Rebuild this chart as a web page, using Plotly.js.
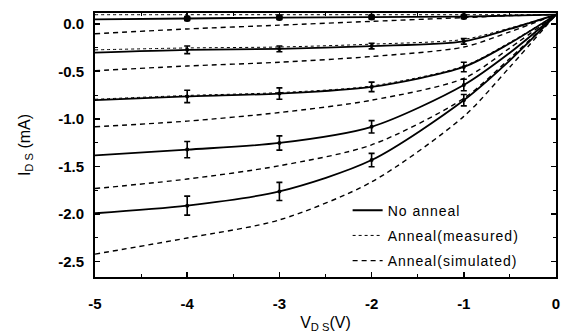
<!DOCTYPE html>
<html>
<head>
<meta charset="utf-8">
<script src="https://cdn.plot.ly/plotly-3.0.1.min.js"></script>
<style>
html,body{margin:0;padding:0;background:#fff;}
#chart{width:562px;height:333px;}
.legendtext{letter-spacing:1px;}
</style>
</head>
<body>
<div id="chart"></div>
<script>
// V_DS values for curves (V)
const vds = [-5, -4, -3, -2, -1, -0.5, 0];
// No anneal (solid) curves, I_DS in mA
const noAnneal1 = [0.05, 0.06, 0.07, 0.075, 0.08, 0.09, 0.10];
const noAnneal2 = [-0.30, -0.27, -0.26, -0.23, -0.18, -0.05, 0.10];
const noAnneal3 = [-0.80, -0.76, -0.73, -0.66, -0.45, -0.20, 0.10];
const noAnneal4 = [-1.38, -1.32, -1.25, -1.08, -0.64, -0.30, 0.10];
const noAnneal5 = [-1.99, -1.91, -1.76, -1.43, -0.80, -0.38, 0.10];
// Anneal (measured) dotted curves
const annealMeas1 = [0.10, 0.10, 0.10, 0.10, 0.10, 0.10, 0.10];
const annealMeas2 = [-0.27, -0.25, -0.24, -0.21, -0.16, -0.04, 0.10];
const annealMeas3 = [-0.79, -0.75, -0.72, -0.65, -0.44, -0.19, 0.10];
// Anneal (simulated) dashed curves
const annealSim1 = [-0.10, -0.05, -0.01, 0.03, 0.07, 0.09, 0.10];
const annealSim2 = [-0.49, -0.44, -0.40, -0.34, -0.24, -0.08, 0.10];
const annealSim3 = [-1.08, -1.02, -0.93, -0.80, -0.57, -0.25, 0.10];
const annealSim4 = [-1.73, -1.63, -1.49, -1.27, -0.78, -0.36, 0.10];
const annealSim5 = [-2.42, -2.25, -2.06, -1.66, -0.97, -0.45, 0.10];
// measured points with error bars
const vMeas = [-4, -3, -2, -1];
const meas1 = [0.06, 0.07, 0.075, 0.08];
const meas2 = [-0.27, -0.26, -0.23, -0.18];
const meas3 = [-0.76, -0.73, -0.66, -0.45];
const meas4 = [-1.32, -1.25, -1.08, -0.64];
const meas5 = [-1.91, -1.76, -1.43, -0.80];
const err1 = [0.02, 0.02, 0.02, 0.02];
const err2 = [0.04, 0.03, 0.03, 0.03];
const err3 = [0.065, 0.06, 0.05, 0.05];
const err4 = [0.085, 0.075, 0.065, 0.06];
const err5 = [0.10, 0.095, 0.07, 0.06];
// axis ticks
const xTicks = [-5, -4, -3, -2, -1, 0];
const xTickText = ['-5', '-4', '-3', '-2', '-1', '0'];
const yTicks = [0, -0.5, -1.0, -1.5, -2.0, -2.5];
const yTickText = ['0.0', '-0.5', '-1.0', '-1.5', '-2.0', '-2.5'];

const traces = [];
const solid = [noAnneal1, noAnneal2, noAnneal3, noAnneal4, noAnneal5];
const dotted = [annealMeas1, annealMeas2, annealMeas3];
const dashed = [annealSim1, annealSim2, annealSim3, annealSim4, annealSim5];

dashed.forEach((y, i) => traces.push({
  x: vds, y: y, mode: 'lines', type: 'scatter',
  line: {color: '#000', width: 1.4, dash: '5px,4px', shape: 'spline', smoothing: 0.8},
  name: 'Anneal(simulated)', legendgroup: 'c', showlegend: i === 0, legendrank: 3
}));
dotted.forEach((y, i) => traces.push({
  x: vds, y: y, mode: 'lines', type: 'scatter',
  line: {color: '#000', width: 1, dash: 'dot', shape: 'spline', smoothing: 0.8},
  name: 'Anneal(measured)', legendgroup: 'b', showlegend: i === 0, legendrank: 2
}));
solid.forEach((y, i) => traces.push({
  x: vds, y: y, mode: 'lines', type: 'scatter',
  line: {color: '#000', width: 1.8, shape: 'spline', smoothing: 0.8},
  name: 'No anneal', legendgroup: 'a', showlegend: i === 0, legendrank: 1
}));
const meas = [meas1, meas2, meas3, meas4, meas5];
const errs = [err1, err2, err3, err4, err5];
meas.forEach((y, i) => traces.push({
  x: vMeas, y: y, mode: 'markers', type: 'scatter', showlegend: false,
  marker: {color: '#000', size: i === 0 ? 7 : 4, symbol: 'circle'},
  error_y: {type: 'data', array: errs[i], visible: true, color: '#000', thickness: 1.6, width: 3}
}));

const layout = {
  width: 562, height: 333,
  margin: {l: 95, r: 6, t: 13, b: 56},
  paper_bgcolor: '#fff', plot_bgcolor: '#fff',
  font: {family: 'Liberation Sans, Arial, sans-serif', color: '#000', size: 13},
  showlegend: true,
  legend: {x: 0.548, y: 0.312, xanchor: 'left', yanchor: 'top', bgcolor: 'rgba(0,0,0,0)',
           traceorder: 'grouped', tracegroupgap: 4,
           font: {family: 'Liberation Sans, Arial, sans-serif', size: 14, color: '#000'}},
  xaxis: {
    range: [-5, 0], tickvals: xTicks, ticktext: xTickText,
    ticks: 'inside', ticklen: 5, tickwidth: 1.5, tickcolor: '#000',
    minor: {dtick: 0.5, ticks: 'inside', ticklen: 3, tickwidth: 1, tickcolor: '#000'},
    showline: true, linecolor: '#000', linewidth: 2, mirror: 'ticks',
    showgrid: false, zeroline: false, ticklabelstandoff: 12,
    tickfont: {family: 'Liberation Sans, Arial, sans-serif', size: 15, weight: 'bold'},
    title: {text: 'V<sub>D S</sub>(V)', standoff: 6,
            font: {family: 'Liberation Sans, Arial, sans-serif', size: 16}}
  },
  yaxis: {
    range: [-2.661, 0.118], tickvals: yTicks, ticktext: yTickText,
    ticks: 'inside', ticklen: 5, tickwidth: 1.5, tickcolor: '#000',
    minor: {dtick: 0.25, ticks: 'inside', ticklen: 3, tickwidth: 1, tickcolor: '#000'},
    showline: true, linecolor: '#000', linewidth: 2, mirror: 'ticks',
    showgrid: false, zeroline: false, ticklabelstandoff: 6,
    tickfont: {family: 'Liberation Sans, Arial, sans-serif', size: 15, weight: 'bold'},
    title: {text: 'I<sub>D S</sub> (mA)', standoff: 24,
            font: {family: 'Liberation Sans, Arial, sans-serif', size: 16}}
  }
};

Plotly.newPlot('chart', traces, layout, {staticPlot: true, displayModeBar: false});
</script>
</body>
</html>
